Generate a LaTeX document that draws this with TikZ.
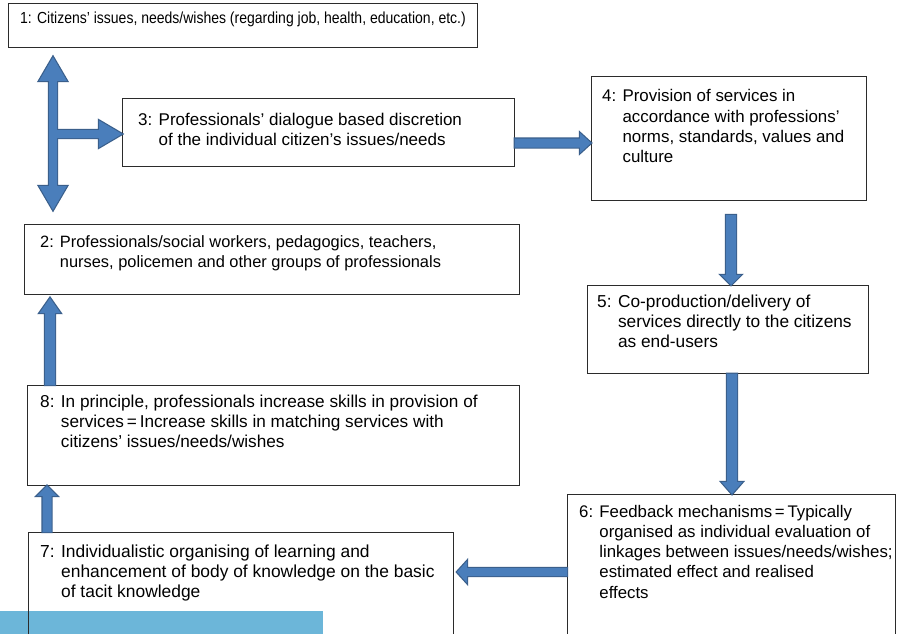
\documentclass[tikz,border=0pt]{standalone}
\usepackage{fontspec}
\setmainfont{Liberation Sans}
\newfontfamily\narrowsans[FakeStretch=0.875]{Liberation Sans}
\usetikzlibrary{calc}
\definecolor{arrowdark}{HTML}{3A5F8B}
\definecolor{arrowlight}{HTML}{4A7EBB}
\definecolor{skyband}{HTML}{6CB6D9}
\definecolor{boxline}{HTML}{2B2B2B}
% block arrow: style, start, end, half shaft, half head, head length
\newcommand\blkarrow[6]{%
  \path (#2) coordinate (bs) (#3) coordinate (bt);
  \path ($(bt)!#6!(bs)$) coordinate (bh);
  \path[#1] ($(bs)!#4!90:(bt)$) -- ($(bh)!#4!90:(bt)$) -- ($(bh)!#5!90:(bt)$) -- (bt)
    -- ($(bh)!#5!-90:(bt)$) -- ($(bh)!#4!-90:(bt)$) -- ($(bs)!#4!-90:(bt)$) -- cycle;
}
% double-headed block arrow
\newcommand\dblarrow[6]{%
  \path (#2) coordinate (bs) (#3) coordinate (bt);
  \path ($(bs)!#6!(bt)$) coordinate (ha) ($(bt)!#6!(bs)$) coordinate (hb);
  \path[#1] (bs) -- ($(ha)!#5!-90:(bs)$) -- ($(ha)!#4!-90:(bs)$) -- ($(hb)!#4!90:(bt)$)
    -- ($(hb)!#5!90:(bt)$) -- (bt) -- ($(hb)!#5!-90:(bt)$) -- ($(hb)!#4!-90:(bt)$)
    -- ($(ha)!#4!90:(bs)$) -- ($(ha)!#5!90:(bs)$) -- cycle;
}
\newcommand\hangtext[2]{#1 \begin{tabular}[t]{@{}l@{}}#2\end{tabular}}
\tikzset{
  box/.style={draw=boxline, line width=0.8pt, inner sep=0pt, anchor=north west},
  txt/.style={anchor=base west, inner sep=0pt, font=\fontsize{#1}{20.3}\selectfont},
  narrowtxt/.style={anchor=base west, inner sep=0pt, font=\narrowsans\fontsize{#1}{20.3}\selectfont},
  arrowline/.style={draw=arrowdark, fill=arrowdark, line width=2.4pt, line join=miter},
  arrowinner/.style={fill=arrowlight},
}
\begin{document}
\begin{tikzpicture}[x=1pt,y=-1pt]
\useasboundingbox (0,0) rectangle (905,634);
\clip (0,0) rectangle (905,634);
\fill[white] (0,0) rectangle (905,634);
% light band at the bottom
\fill[skyband] (0,611) rectangle (323,640);
% boxes
\node[box, minimum width=469pt, minimum height=44pt]  (b1) at (8,3) {};
\node[box, minimum width=392pt, minimum height=68pt]  (b3) at (122,98) {};
\node[box, minimum width=275pt, minimum height=124pt] (b4) at (591,76) {};
\node[box, minimum width=495pt, minimum height=70pt]  (b2) at (24,224) {};
\node[box, minimum width=281pt, minimum height=88pt]  (b5) at (587,285) {};
\node[box, minimum width=492pt, minimum height=100pt] (b8) at (27,385) {};
\node[box, minimum width=328pt, minimum height=146pt] (b6) at (567,494) {};
\node[box, minimum width=425pt, minimum height=108pt] (b7) at (28,532) {};
% texts
\node[narrowtxt=16] (t1) at (20,24) {1: Citizens’ issues, needs/wishes (regarding job, health, education, etc.)};
\node[txt=17] (t3) at (138,125) {\hangtext{3:}{Professionals’ dialogue based discretion\\of the individual citizen’s issues/needs}};
\node[txt=16.9] (t4) at (602,102) {\hangtext{4:}{Provision of services in\\accordance with professions’\\norms, standards, values and\\culture}};
\node[txt=16.4] (t2) at (40,247) {\hangtext{2:}{Professionals/social workers, pedagogics, teachers,\\nurses, policemen and other groups of professionals}};
\node[txt=17.3] (t5) at (597,307) {\hangtext{5:}{Co-production/delivery of\\services directly to the citizens\\as end-users}};
\node[txt=17.2] (t8) at (40,407) {\hangtext{8:}{In principle, professionals increase skills in provision of\\services\,=\,Increase skills in matching services with\\citizens’ issues/needs/wishes}};
\node[txt=16.8] (t6) at (579,517) {\hangtext{6:}{Feedback mechanisms\,=\,Typically\\organised as individual evaluation of\\linkages between issues/needs/wishes;\\estimated effect and realised\\effects}};
\node[txt=17.4] (t7) at (40,557) {\hangtext{7:}{Individualistic organising of learning and\\enhancement of body of knowledge on the basic\\of tacit knowledge}};
% connector helper coordinates
\coordinate (dtop) at (53,57);
\coordinate (dbot) at (53,210);
\coordinate (brs) at (53,134);
\coordinate (y34) at (0,143);
\coordinate (a45) at (731,215);
\coordinate (x56) at (732,0);
\coordinate (y67) at (0,572);
\coordinate (a67t) at (457,572);
\coordinate (x78) at (47,0);
\coordinate (x82) at (50,0);
\coordinate (a82t) at (50,298);
\newcommand\allarrows[1]{%
  \dblarrow{#1}{dtop}{dbot}{4pt}{14pt}{24pt}
  \blkarrow{#1}{brs}{brs -| b3.west}{4pt}{13.5pt}{23pt}
  \blkarrow{#1}{y34 -| b3.east}{y34 -| b4.west}{4.5pt}{10pt}{11pt}
  \blkarrow{#1}{a45}{a45 |- b5.north}{5pt}{10pt}{10pt}
  \blkarrow{#1}{x56 |- b5.south}{x56 |- b6.north}{5pt}{10.5pt}{12pt}
  \blkarrow{#1}{y67 -| b6.west}{a67t}{4pt}{11pt}{10pt}
  \blkarrow{#1}{x78 |- b7.north}{x78 |- b8.south}{4.5pt}{10pt}{10pt}
  \blkarrow{#1}{x82 |- b8.north}{a82t}{5pt}{10.5pt}{15pt}
}
\allarrows{arrowline}
\allarrows{arrowinner}
\end{tikzpicture}
\end{document}
